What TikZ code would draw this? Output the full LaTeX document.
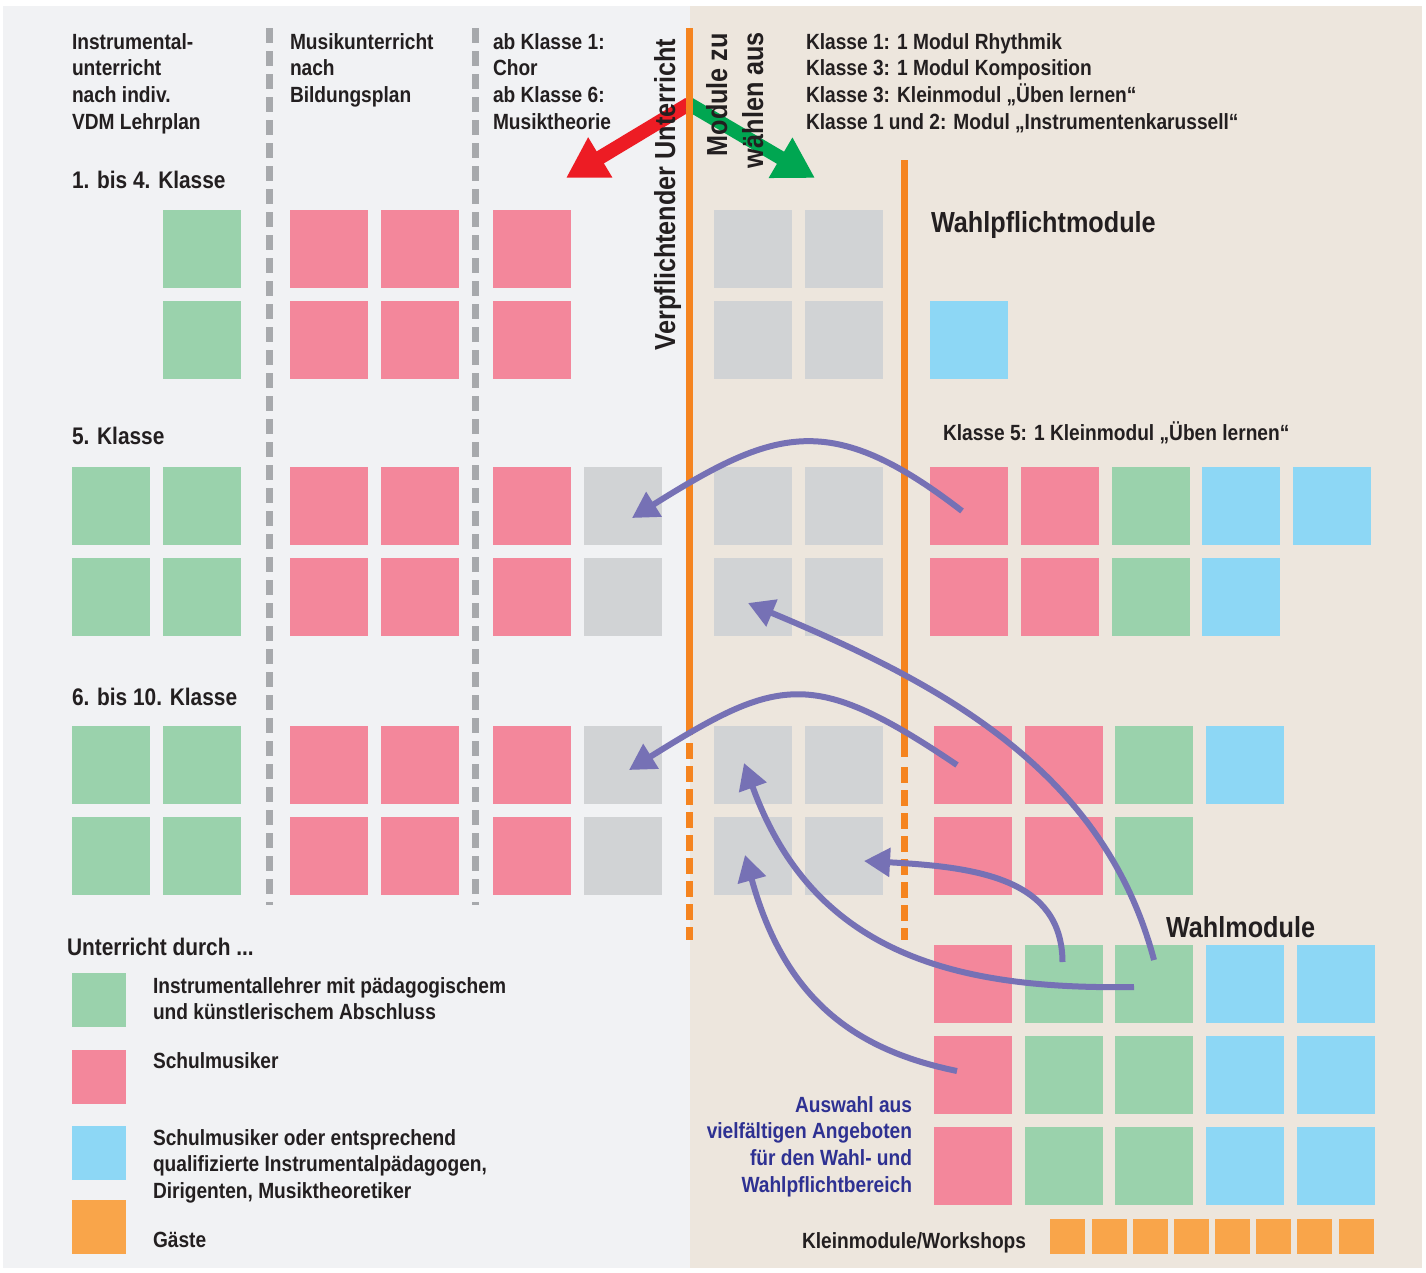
\documentclass[tikz,border=0pt]{standalone}
\usepackage{fontspec}
\setmainfont{Liberation Sans}[FakeStretch=0.87]
\usetikzlibrary{arrows.meta}
\definecolor{bgL}{HTML}{F1F2F4}
\definecolor{bgR}{HTML}{EDE6DD}
\definecolor{cgreen}{HTML}{9AD2AC}
\definecolor{cpink}{HTML}{F3879B}
\definecolor{cgrey}{HTML}{D1D3D5}
\definecolor{cblue}{HTML}{8DD7F5}
\definecolor{corange}{HTML}{F9A54A}
\definecolor{lineorange}{HTML}{F5841F}
\definecolor{dashgrey}{HTML}{A7A9AC}
\definecolor{purp}{HTML}{7671B5}
\definecolor{redarrow}{HTML}{ED1C24}
\definecolor{greenarrow}{HTML}{00A651}
\definecolor{txt}{HTML}{231F20}
\definecolor{navy}{HTML}{2E3192}
\newcommand\leftlines[1]{\vtop{\halign{##\hfil\cr#1\crcr}}}
\newcommand\rightlines[1]{\vtop{\halign{\hfil##\cr#1\crcr}}}
\tikzset{
  sq/.style={minimum width=78pt, minimum height=78pt, inner sep=0pt, outer sep=0pt, anchor=north west, draw=none},
  small/.style={minimum width=35pt, minimum height=35pt, inner sep=0pt, outer sep=0pt, anchor=north west, draw=none, fill=corange},
  legsq/.style={minimum width=54pt, minimum height=54pt, inner sep=0pt, outer sep=0pt, anchor=north west, draw=none},
  lbl/.style={inner sep=0pt, outer sep=0pt, anchor=base west, text=txt, font=\fontsize{22}{26.7}\selectfont\bfseries},
  sec/.style={lbl, font=\fontsize{24}{28}\selectfont\bfseries},
  big/.style={lbl, font=\fontsize{29}{36}\selectfont\bfseries},
  greydash/.style={draw=dashgrey, line width=7pt, dash pattern=on 15pt off 8pt},
  oline/.style={draw=lineorange, line width=7pt},
  odash/.style={draw=lineorange, line width=7pt, dash pattern=on 16pt off 7pt},
  parr/.style={draw=purp, line width=6pt, -{Triangle[length=26pt,width=28pt]}},
  bigarr/.style={line width=14pt, -{Triangle[length=40pt,width=44pt]}},
}
\begin{document}
\begin{tikzpicture}[x=1pt,y=-1pt]
\useasboundingbox (0,0) rectangle (1426,1272);
% backgrounds
\fill[bgL] (3,6) rectangle (690,1268);
\fill[bgR] (690,6) rectangle (1422,1268);

% squares: Klasse 1-4
\foreach \r/\y in {e/210,f/301} {
  \foreach \c/\x/\col in {2/163/cgreen,3/290/cpink,4/381/cpink,5/493/cpink,7/714/cgrey,8/805/cgrey}
    \node[sq,fill=\col] (\r\c) at (\x,\y) {};
}
\node[sq,fill=cblue] (f9) at (930,301) {};
% Klasse 5 and 6-10 left parts
\foreach \r/\y in {a/467,b/558,c/726,d/817} {
  \foreach \c/\x/\col in {1/72/cgreen,2/163/cgreen,3/290/cpink,4/381/cpink,5/493/cpink,6/584/cgrey,7/714/cgrey,8/805/cgrey}
    \node[sq,fill=\col] (\r\c) at (\x,\y) {};
}
% Wahlpflichtmodule right
\foreach \c/\x/\col in {1/930/cpink,2/1021/cpink,3/1112/cgreen,4/1202/cblue,5/1293/cblue}
  \node[sq,fill=\col] (ra\c) at (\x,467) {};
\foreach \c/\x/\col in {1/930/cpink,2/1021/cpink,3/1112/cgreen,4/1202/cblue}
  \node[sq,fill=\col] (rb\c) at (\x,558) {};
\foreach \c/\x/\col in {1/934/cpink,2/1025/cpink,3/1115/cgreen,4/1206/cblue}
  \node[sq,fill=\col] (rc\c) at (\x,726) {};
\foreach \c/\x/\col in {1/934/cpink,2/1025/cpink,3/1115/cgreen}
  \node[sq,fill=\col] (rd\c) at (\x,817) {};
% Wahlmodule
\foreach \r/\y in {1/945,2/1036,3/1127} {
  \foreach \c/\x/\col in {1/934/cpink,2/1025/cgreen,3/1115/cgreen,4/1206/cblue,5/1297/cblue}
    \node[sq,fill=\col] (w\r\c) at (\x,\y) {};
}
% Kleinmodule
\foreach \i/\x in {1/1050,2/1092,3/1133,4/1174,5/1215,6/1256,7/1297,8/1339}
  \node[small] (km\i) at (\x,1219) {};

% legend squares
\node[legsq,fill=cgreen] (lg1) at (72,973) {};
\node[legsq,fill=cpink] (lg2) at (72,1050) {};
\node[legsq,fill=cblue] (lg3) at (72,1126) {};
\node[legsq,fill=corange] (lg4) at (72,1200) {};

% grey dashed separators
\draw[greydash] (269,28) -- (269,905);
\draw[greydash] (475,28) -- (475,905);

% red / green arrows
\coordinate (split) at (689,104);
\coordinate (redtip) at (566,178);
\coordinate (greentip) at (815,178);
\draw[bigarr, draw=redarrow, fill=redarrow] (split) -- (redtip);
\draw[bigarr, draw=greenarrow, fill=greenarrow] (split) -- (greentip);

% orange lines
\draw[oline] (689,28) -- (689,735);
\draw[odash] (689,743) -- (689,940);
\draw[oline] (904,160) -- (904,757);
\draw[odash] (904,767) -- (904,940);

% texts
\node[lbl] (h1) at (72,49) {\leftlines{Instrumental-\cr unterricht\cr nach indiv.\cr VDM Lehrplan}};
\node[lbl] (h2) at (290,49) {\leftlines{Musikunterricht\cr nach\cr Bildungsplan}};
\node[lbl] (h3) at (493,49) {\leftlines{ab Klasse 1:\cr Chor\cr ab Klasse 6:\cr Musiktheorie}};
\node[lbl] (h4) at (806,49) {\leftlines{Klasse 1: 1 Modul Rhythmik\cr Klasse 3: 1 Modul Komposition\cr Klasse 3: Kleinmodul „Üben lernen“\cr Klasse 1 und 2: Modul „Instrumentenkarussell“}};
\node[sec] (s1) at (72,188) {1. bis 4. Klasse};
\node[sec] (s2) at (72,444) {5. Klasse};
\node[sec] (s3) at (72,705) {6. bis 10. Klasse};
\node[big, rotate=90] (verpf) at (675,350) {Verpflichtender Unterricht};
\node[big, rotate=90, anchor=base east] (mod1) at (727,33) {Module zu};
\node[big, rotate=90, anchor=base east] (mod2) at (763,32) {wählen aus};
\node[big] (wpm) at (931,232) {Wahlpflichtmodule};
\node[lbl] (k5) at (943,440) {Klasse 5: 1 Kleinmodul „Üben lernen“};
\node[big] (wm) at (1166,937) {Wahlmodule};
\node[sec] (ud) at (67,955) {Unterricht durch ...};
\node[lbl] (l1) at (153,993) {\leftlines{Instrumentallehrer mit pädagogischem\cr und künstlerischem Abschluss}};
\node[lbl] (l2) at (153,1068) {Schulmusiker};
\node[lbl] (l3) at (153,1145) {\leftlines{Schulmusiker oder entsprechend\cr qualifizierte Instrumentalpädagogen,\cr Dirigenten, Musiktheoretiker}};
\node[lbl] (l4) at (153,1247) {Gäste};
\node[lbl, anchor=base east, text=navy] (aus) at (912,1112) {\rightlines{Auswahl aus\cr vielfältigen Angeboten\cr für den Wahl- und\cr Wahlpflichtbereich}};
\node[lbl] (kmw) at (802,1248) {Kleinmodule/Workshops};

% purple arrows
\draw[parr] ([shift={(-7,5)}]ra1.center) .. controls (830,409) and (774,429) .. ([shift={(9,12)}]a6.center);
\draw[parr] ([shift={(0,-24)}]w13.center) .. controls (1103,766) and (932,680) .. ([shift={(-5,6)}]b7.center);
\draw[parr] ([shift={(-16,0)}]rc1.center) .. controls (812,667) and (778,677) .. ([shift={(6,5)}]c6.center);
\draw[parr] ([shift={(-1.5,-22)}]w12.center) .. controls (1062,880) and (980,867) .. ([shift={(20,5)}]d8.center);
\draw[parr] ([shift={(-20,3)}]w13.center) .. controls (950,990) and (812,951) .. ([shift={(-9,-2)}]c7.center);
\draw[parr] ([shift={(-16,-4)}]w21.center) .. controls (855,1050) and (785,1000) .. ([shift={(-8,-1)}]d7.center);
\end{tikzpicture}
\end{document}
